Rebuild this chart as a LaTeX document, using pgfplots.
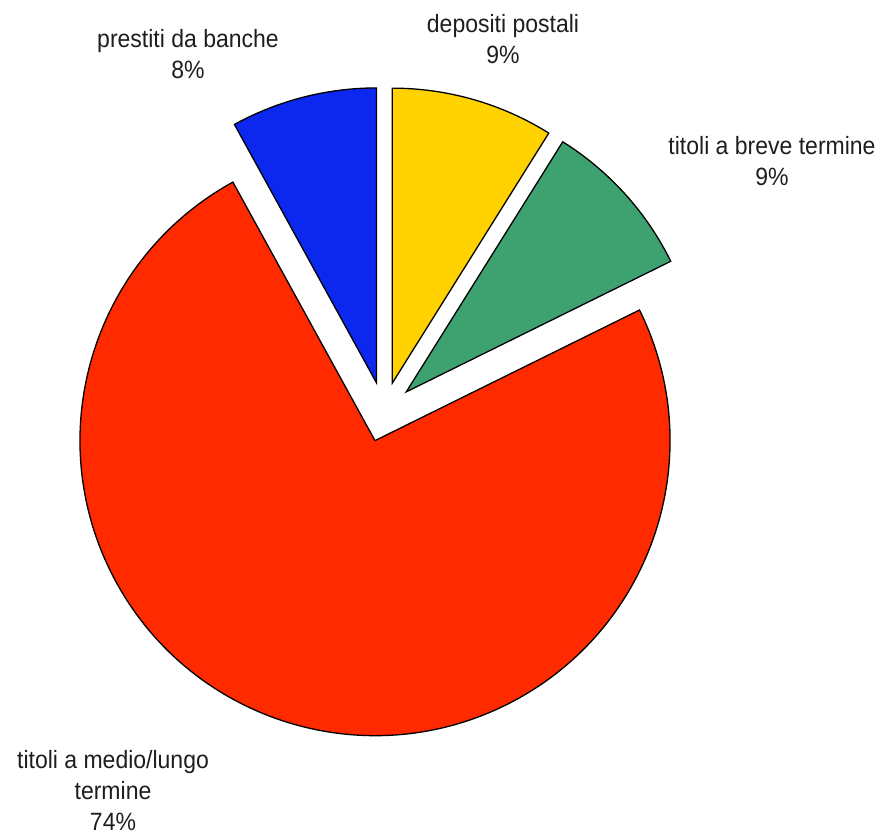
\documentclass[border=0pt]{standalone}
\usepackage{pgfplots}
\pgfplotsset{compat=1.18}
\usepackage{fontspec}
\setmainfont{Liberation Sans}[FakeStretch=0.92]
\definecolor{cYellow}{RGB}{255,210,0}
\definecolor{cGreen}{RGB}{62,162,112}
\definecolor{cRed}{RGB}{255,42,0}
\definecolor{cBlue}{RGB}{12,40,238}
\definecolor{cText}{RGB}{30,30,30}
\begin{document}
\begin{tikzpicture}
% shares in percent, clockwise from 12 o'clock
\def\vYellow{8.9}% depositi postali
\def\vGreen{8.8}% titoli a breve termine
\def\vRed{74.3}% titoli a medio/lungo termine
\def\vBlue{8.0}% prestiti da banche
\pgfmathsetmacro\aA{90}
\pgfmathsetmacro\aB{\aA-3.6*\vYellow}
\pgfmathsetmacro\aC{\aB-3.6*\vGreen}
\pgfmathsetmacro\aD{\aC-3.6*\vRed}
\pgfmathsetmacro\aE{\aD-3.6*\vBlue}
\pgfmathsetmacro\mA{(\aA+\aB)/2}
\pgfmathsetmacro\mB{(\aB+\aC)/2}
\pgfmathsetmacro\mC{(\aC+\aD)/2}
\pgfmathsetmacro\mD{(\aD+\aE)/2}
\begin{axis}[
  width=883pt, height=832pt, scale only axis,
  xmin=0, xmax=883, ymin=0, ymax=832,
  enlargelimits=false, hide axis, clip=false,
]
\addplot[draw=none] coordinates {(0,0) (883,832)};
\filldraw[fill=cYellow, draw=black, line width=1.3pt] (axis cs:384,420) ++(\mA:30pt) -- ++(\aA:295pt) arc[start angle=\aA, end angle=\aB, radius=295pt] -- cycle;
\filldraw[fill=cGreen, draw=black, line width=1.3pt] (axis cs:384,420) ++(\mB:30pt) -- ++(\aB:295pt) arc[start angle=\aB, end angle=\aC, radius=295pt] -- cycle;
\filldraw[fill=cRed, draw=black, line width=1.3pt] (axis cs:384,420) ++(\mC:30pt) -- ++(\aC:295pt) arc[start angle=\aC, end angle=\aD, radius=295pt] -- cycle;
\filldraw[fill=cBlue, draw=black, line width=1.3pt] (axis cs:384,420) ++(\mD:30pt) -- ++(\aD:295pt) arc[start angle=\aD, end angle=\aE, radius=295pt] -- cycle;
\node[align=center, text=cText, font=\fontsize{25}{31}\selectfont] at (axis cs:188,778) {prestiti da banche\\8\%};
\node[align=center, text=cText, font=\fontsize{25}{31}\selectfont] at (axis cs:503,793) {depositi postali\\9\%};
\node[align=center, text=cText, font=\fontsize{25}{31}\selectfont] at (axis cs:772,671) {titoli a breve termine\\9\%};
\node[align=center, text=cText, font=\fontsize{25}{31}\selectfont] at (axis cs:113,41) {titoli a medio/lungo\\termine\\74\%};
\end{axis}
\end{tikzpicture}
\end{document}
